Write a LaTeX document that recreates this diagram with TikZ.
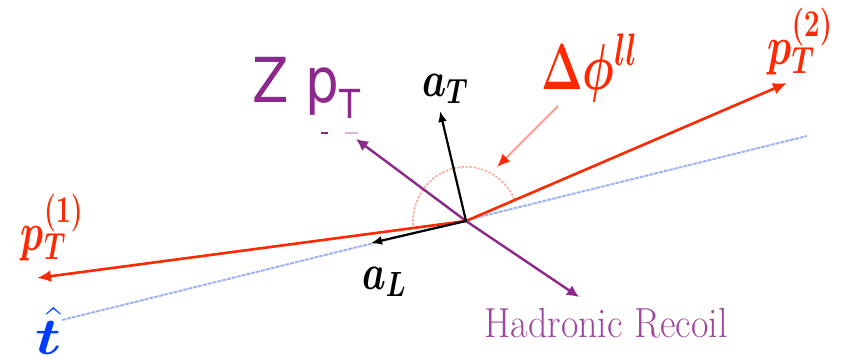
\RequirePackage{fix-cm}
\documentclass[tikz,border=0pt]{standalone}
\usepackage{fontspec}
\usepackage{bm}
\usepackage{graphicx}
\usetikzlibrary{arrows.meta}
\newfontfamily\dejavu{DejaVu Sans}
\definecolor{lred}{RGB}{255,40,0}
\definecolor{purp}{RGB}{140,40,140}
\definecolor{lblue}{RGB}{120,145,245}
\definecolor{tblue}{RGB}{0,60,255}
\newcommand{\fitw}[2]{\resizebox{#1}{\height}{#2}}
\begin{document}
\begin{tikzpicture}[x=1pt,y=-1pt,
  lbl/.style={inner sep=0pt, outer sep=0pt},
  redvec/.style={draw=lred, line width=2.6pt, -{Latex[length=14pt,width=12pt]}},
  purvec/.style={draw=purp, line width=2.4pt, -{Latex[length=12pt,width=12pt]}},
  blkvec/.style={draw=black, line width=2.2pt, -{Latex[length=11pt,width=9pt]}},
  bluelin/.style={draw=lblue, line width=2pt, opacity=0.7, dash pattern=on 4pt off 1pt},
  arcline/.style={draw=lred!40, line width=1.6pt, dash pattern=on 2.5pt off 1.5pt},
  pointer/.style={draw=lred!45, line width=1.8pt, -{Latex[length=13pt,width=11pt,color=lred]}}]
\useasboundingbox (0,0) rectangle (842,359);
\coordinate (c) at (466,221);
\coordinate (p1end) at (37,278);
\coordinate (p2end) at (787,83);
\coordinate (b1) at (62,320);
\coordinate (b2) at (807,136);
\coordinate (aLend) at (371,243);
\coordinate (aTend) at (440,111);
\coordinate (zend) at (356,139);
\coordinate (hend) at (579,297);
\coordinate (ptail) at (558,106);
\coordinate (ptip) at (497,167);
% blue reference line
\draw[bluelin] (b1) -- (b2);
% dphi arc
\draw[arcline] (c) ++(-24:53) arc[start angle=-24, end angle=-187, x radius=53, y radius=55];
% red leptons
\draw[redvec] (c) -- (p1end);
\draw[redvec] (c) -- (p2end);
% purple Z pT / recoil
\draw[purvec] (c) -- (zend);
\draw[purvec] (c) -- (hend);
% black aT aL
\draw[blkvec] (c) -- (aLend);
\draw[blkvec] (c) -- (aTend);
% pointer
\draw[pointer] (ptail) -- (ptip);
% stray marks
\draw[purp, line width=2pt] (321,133) -- (328,133);
\draw[purp!35, line width=2pt] (345,133) -- (358,133);
% labels
\node[lbl, text=lred] (lp1) at (52,228) {\fitw{62pt}{\fontsize{54}{60}\selectfont$\bm{p_T^{(1)}}$}};
\node[lbl, text=lred] (lp2) at (800,42) {\fitw{65pt}{\fontsize{54}{60}\selectfont$\bm{p_T^{(2)}}$}};
\node[lbl, text=lred] (ldphi) at (589,68) {\fitw{96pt}{\fontsize{65}{70}\selectfont$\bm{\Delta\phi^{ll}}$}};
\node[lbl, text=purp] (lz) at (306,88) {\fitw{108pt}{\dejavu\fontsize{62}{70}\selectfont Z p\raisebox{-16pt}{\fontsize{40}{40}\selectfont T}}};
\node[lbl] (laT) at (445,89) {\fitw{46pt}{\fontsize{50}{56}\selectfont$\bm{a_T}$}};
\node[lbl] (laL) at (384,282) {\fitw{44pt}{\fontsize{50}{56}\selectfont$\bm{a_L}$}};
\node[lbl, text=tblue] (lt) at (48,331) {\fitw{26pt}{\fontsize{52}{60}\selectfont$\bm{\hat{t}}$}};
\node[lbl, text=purp!85, anchor=base] (lhr) at (606,337) {\fitw{243pt}{\fontsize{42}{48}\selectfont Hadronic Recoil}};
\end{tikzpicture}
\end{document}
